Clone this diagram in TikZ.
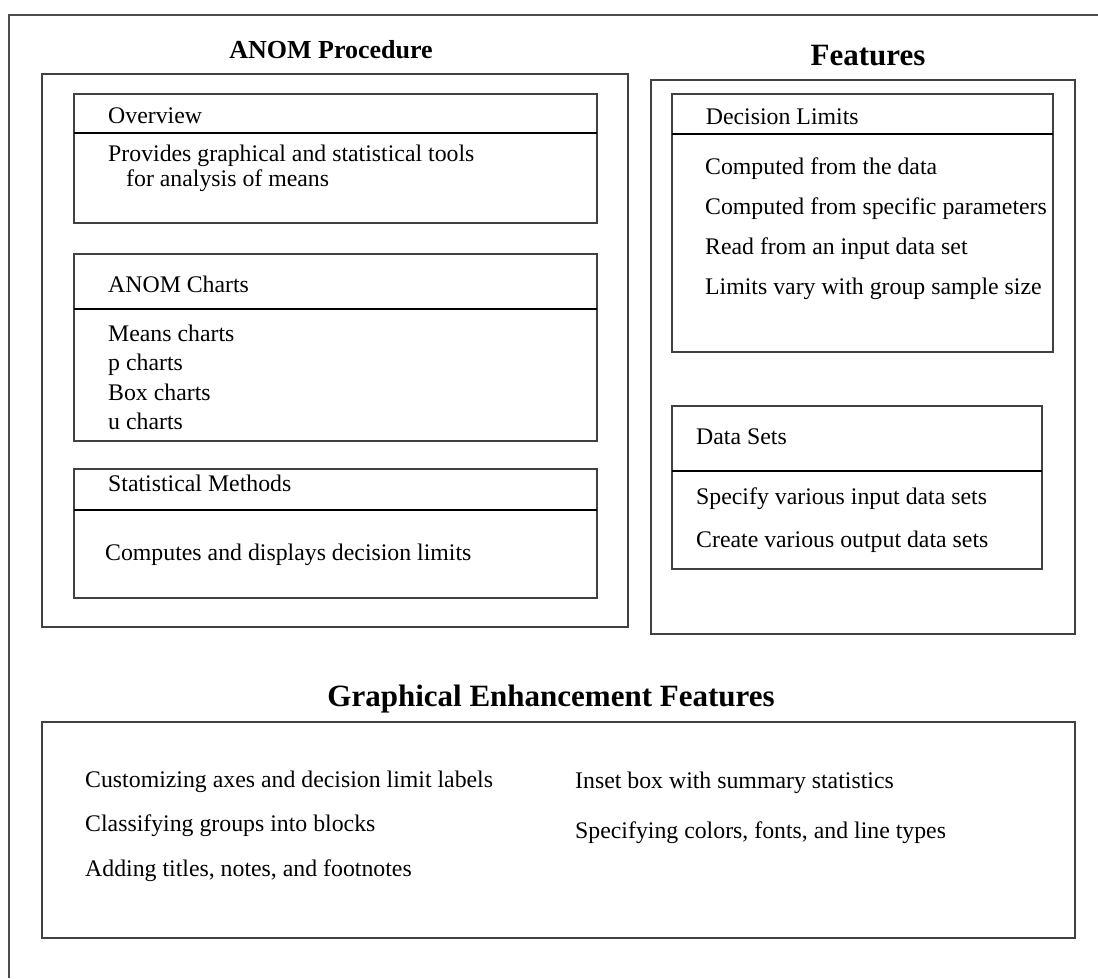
\documentclass[tikz,border=0pt]{standalone}
\usepackage{fontspec}
\setmainfont{Liberation Serif}
\begin{document}
\begin{tikzpicture}[x=1pt,y=-1pt,
  frame/.style={draw=black!70, line width=1.4pt},
  panel/.style={draw=black!75, line width=1.4pt, rectangle, inner sep=0pt, outer sep=0pt, anchor=north west},
  rule/.style={draw=black, line width=1.1pt},
  txt/.style={anchor=base west, inner sep=0pt, font=\fontsize{23.8}{28}\selectfont},
  bigtitle/.style={anchor=base, inner sep=0pt, font=\bfseries\fontsize{31}{36}\selectfont},
  smalltitle/.style={anchor=base, inner sep=0pt, font=\bfseries\fontsize{26}{30}\selectfont}]
\useasboundingbox (0,0) rectangle (1098,978);

% outer frame (open to the right and bottom)
\coordinate (fbl) at (9,978);
\coordinate (ftl) at (9,15);
\coordinate (ftr) at (1098,15);
\draw[frame] (fbl) -- (ftl) -- (ftr);

% ---------- ANOM Procedure ----------
\node[smalltitle] (anomttl) at (331,58) {ANOM Procedure};
\node[panel, minimum width=586pt, minimum height=553pt] (anom) at (42,74) {};

\node[panel, minimum width=523pt, minimum height=129pt] (ov) at (74,94) {};
\draw[rule] (ov.west |- 0,133) -- (ov.east |- 0,133);
\node[txt] (ovh) at (108,123) {Overview};
\node[txt] (ov1) at (108,161.7) {Provides graphical and statistical tools};
\node[txt] (ov2) at (126,186.7) {for analysis of means};

\node[panel, minimum width=523pt, minimum height=187pt] (ch) at (74,254) {};
\draw[rule] (ch.west |- 0,309) -- (ch.east |- 0,309);
\node[txt] (chh) at (108,292.3) {ANOM Charts};
\node[txt] (ch1) at (108,341.7) {Means charts};
\node[txt] (ch2) at (108,370.7) {p charts};
\node[txt] (ch3) at (108,400) {Box charts};
\node[txt] (ch4) at (108,429) {u charts};

\node[panel, minimum width=523pt, minimum height=129pt] (sm) at (74,469) {};
\draw[rule] (sm.west |- 0,510) -- (sm.east |- 0,510);
\node[txt] (smh) at (108,491.7) {Statistical Methods};
\node[txt] (sm1) at (105,560) {Computes and displays decision limits};

% ---------- Features ----------
\node[bigtitle] (featttl) at (868,65) {Features};
\node[panel, minimum width=424pt, minimum height=554pt] (feat) at (651,80) {};

\node[panel, minimum width=381pt, minimum height=258pt] (dl) at (672,94) {};
\draw[rule] (dl.west |- 0,134) -- (dl.east |- 0,134);
\node[txt] (dlh) at (705.7,124) {Decision Limits};
\node[txt] (dl1) at (705,174.3) {Computed from the data};
\node[txt] (dl2) at (705,214) {Computed from specific parameters};
\node[txt] (dl3) at (705,254) {Read from an input data set};
\node[txt] (dl4) at (705,294) {Limits vary with group sample size};

\node[panel, minimum width=370pt, minimum height=163pt] (ds) at (672,406) {};
\draw[rule] (ds.west |- 0,471) -- (ds.east |- 0,471);
\node[txt] (dsh) at (696,444.3) {Data Sets};
\node[txt] (ds1) at (696,504.3) {Specify various input data sets};
\node[txt] (ds2) at (696,547.7) {Create various output data sets};

% ---------- Graphical Enhancement Features ----------
\node[bigtitle] (gefttl) at (551,706) {Graphical Enhancement Features};
\node[panel, minimum width=1033pt, minimum height=216pt] (gef) at (42,722) {};
\node[txt] (g1) at (85,787) {Customizing axes and decision limit labels};
\node[txt] (g2) at (85,831) {Classifying groups into blocks};
\node[txt] (g3) at (85,876) {Adding titles, notes, and footnotes};
\node[txt] (g4) at (575,788) {Inset box with summary statistics};
\node[txt] (g5) at (575,838) {Specifying colors, fonts, and line types};
\end{tikzpicture}
\end{document}
